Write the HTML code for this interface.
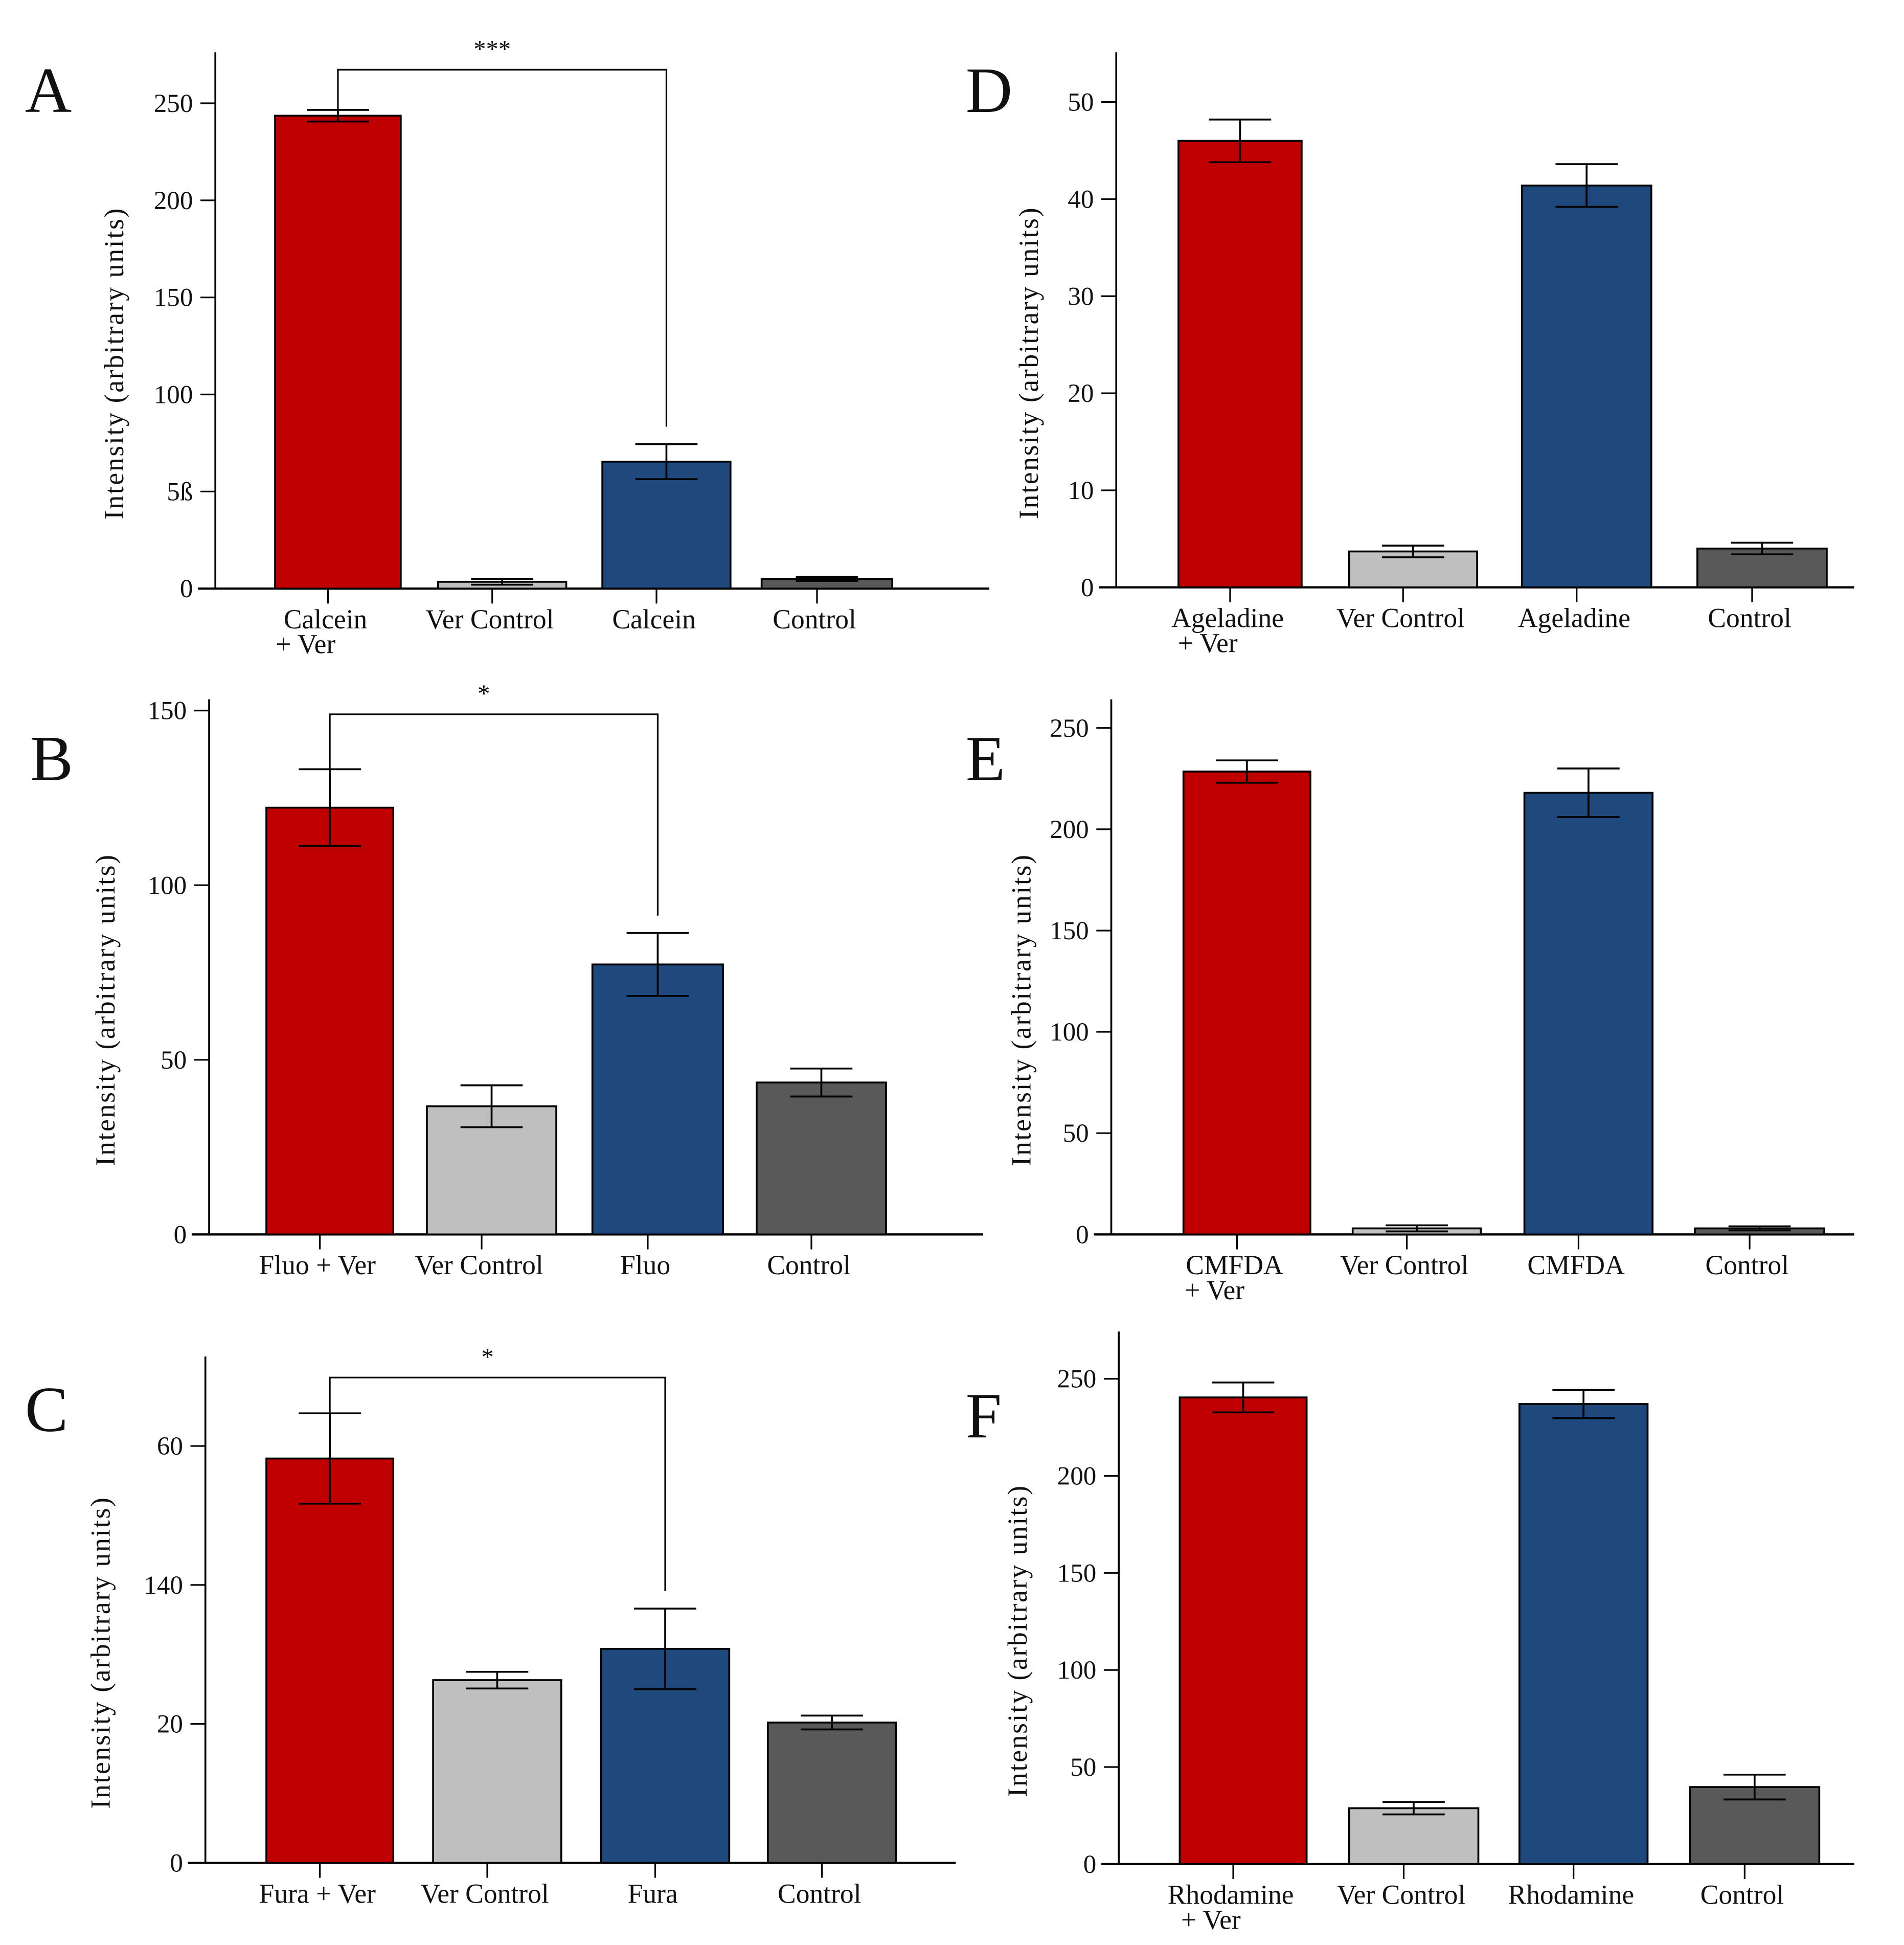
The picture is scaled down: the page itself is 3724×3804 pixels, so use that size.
<!DOCTYPE html>
<html><head><meta charset="utf-8"><style>
html,body{margin:0;padding:0;background:#fff;}
svg{display:block;}
text{font-family:"Liberation Serif",serif;fill:#111;}
</style></head><body>
<svg id="fig" width="3724" height="3804" viewBox="0 0 1530 1563" xmlns="http://www.w3.org/2000/svg"></svg>
<script>
const NS="http://www.w3.org/2000/svg";
const colors=["#c00000","#bfbfbf","#1f497d","#595959"];
// Panel A
const catsA=["Calcein|+ Ver","Ver Control","Calcein","Control"];
const valsA=[243.6,3.5,65.4,5];
const errsA=[3,1.5,9,1];
const ticksA=[0,50,100,150,200,250];
const tickLabelsA=["0","5ß","100","150","200","250"];
// Panel B
const catsB=["Fluo + Ver","Ver Control","Fluo","Control"];
const valsB=[122.2,36.7,77.3,43.5];
const errsB=[11,6,9,4];
const ticksB=[0,50,100,150];
const tickLabelsB=["0","50","100","150"];
// Panel C
const catsC=["Fura + Ver","Ver Control","Fura","Control"];
const valsC=[58.2,26.3,30.8,20.2];
const errsC=[6.5,1.2,5.8,1];
const ticksC=[0,20,40,60];
const tickLabelsC=["0","20","140","60"];
// Panel D
const catsD=["Ageladine|+ Ver","Ver Control","Ageladine","Control"];
const valsD=[46,3.7,41.4,4];
const errsD=[2.2,0.6,2.2,0.6];
const ticksD=[0,10,20,30,40,50];
const tickLabelsD=["0","10","20","30","40","50"];
// Panel E
const catsE=["CMFDA|+ Ver","Ver Control","CMFDA","Control"];
const valsE=[228.5,3,218,3];
const errsE=[5.5,1.5,12,1];
const ticksE=[0,50,100,150,200,250];
const tickLabelsE=["0","50","100","150","200","250"];
// Panel F
const catsF=["Rhodamine|+ Ver","Ver Control","Rhodamine","Control"];
const valsF=[240.4,28.8,237,39.7];
const errsF=[7.7,3.2,7.3,6.4];
const ticksF=[0,50,100,150,200,250];
const tickLabelsF=["0","50","100","150","200","250"];

const svg=document.getElementById('fig');
function el(tag,attrs,parent){const e=document.createElementNS(NS,tag);for(const k in attrs)e.setAttribute(k,attrs[k]);(parent||svg).appendChild(e);return e;}

const panels=[
 {id:"a",L:"A",lx:20,ly:90,ax:173,top:42,y0:473,yTopVal:250,yTopPx:83,xEnd:795,bars:[[221,322],[352,455],[484,587],[612,717]],cats:catsA,vals:valsA,errs:errsA,ticks:ticksA,tl:tickLabelsA,ylx:93,br:{y:56,l:0,r:2,star:"***"}},
 {id:"b",L:"B",lx:24,ly:627,ax:168,top:562,y0:992,yTopVal:150,yTopPx:571,xEnd:790,bars:[[214,316],[343,447],[476,581],[608,712]],cats:catsB,vals:valsB,errs:errsB,ticks:ticksB,tl:tickLabelsB,ylx:86,br:{y:574,l:0,r:2,star:"*"}},
 {id:"c",L:"C",lx:20,ly:1150,ax:165,top:1090,y0:1497,yTopVal:60,yTopPx:1162,xEnd:768,bars:[[214,316],[348,451],[483,586],[617,720]],cats:catsC,vals:valsC,errs:errsC,ticks:ticksC,tl:tickLabelsC,ylx:82,br:{y:1107,l:0,r:2,star:"*"}},
 {id:"d",L:"D",lx:776,ly:90,ax:897,top:42,y0:472,yTopVal:50,yTopPx:82,xEnd:1490,bars:[[947,1046],[1084,1187],[1223,1327],[1364,1468]],cats:catsD,vals:valsD,errs:errsD,ticks:ticksD,tl:tickLabelsD,ylx:828},
 {id:"e",L:"E",lx:776,ly:627,ax:893,top:562,y0:992,yTopVal:250,yTopPx:585,xEnd:1490,bars:[[951,1053],[1087,1190],[1225,1328],[1362,1466]],cats:catsE,vals:valsE,errs:errsE,ticks:ticksE,tl:tickLabelsE,ylx:822},
 {id:"f",L:"F",lx:776,ly:1155,ax:899,top:1070,y0:1498,yTopVal:250,yTopPx:1108,xEnd:1490,bars:[[948,1050],[1084,1188],[1221,1324],[1358,1462]],cats:catsF,vals:valsF,errs:errsF,ticks:ticksF,tl:tickLabelsF,ylx:819}
];

panels.forEach(p=>{
 const g=el('g',{});
 
 
 const yS=v=>p.y0-(p.y0-p.yTopPx)*v/p.yTopVal;
 const t=el('text',{x:p.lx,y:p.ly,'font-size':52},g);t.textContent=p.L;
 
 
 const ya=el('line',{x1:p.ax,y1:p.top,x2:p.ax,y2:p.y0,stroke:'#000','stroke-width':1.5},g);
 
 
 const xa=el('line',{x1:p.ax-14,y1:p.y0,x2:p.xEnd,y2:p.y0,stroke:'#000','stroke-width':1.8},g);
 
 
 p.ticks.forEach((v,i)=>{
  const y=yS(v);
  el('line',{x1:p.ax-12,y1:y,x2:p.ax,y2:y,stroke:'#000','stroke-width':1.3},g);
  const tt=el('text',{x:p.ax-18,y:y+7,'font-size':21,'text-anchor':'end'},g);tt.textContent=p.tl[i];
  
  
 });
 const yl=el('text',{x:0,y:0,'font-size':22,'text-anchor':'middle',textLength:250,lengthAdjust:'spacing',transform:`translate(${p.ylx+6},${(p.top+p.y0)/2+35}) rotate(-90)`},g);
 yl.textContent="Intensity  (arbitrary  units)";
 
 
 p.vals.forEach((v,i)=>{
  const [x1,x2]=p.bars[i];const cx=(x1+x2)/2;
  const r=el('rect',{x:x1,y:yS(v),width:x2-x1,height:p.y0-yS(v),fill:colors[i],stroke:'#000','stroke-width':1.5},g);
  
  
  const e=p.errs[i];
  const eg=el('g',{stroke:'#000','stroke-width':1.5},g);
  
  
  el('line',{x1:cx,y1:yS(v+e),x2:cx,y2:yS(v-e)},eg);
  el('line',{x1:cx-25,y1:yS(v+e),x2:cx+25,y2:yS(v+e)},eg);
  el('line',{x1:cx-25,y1:yS(v-e),x2:cx+25,y2:yS(v-e)},eg);
  el('line',{x1:cx-8,y1:p.y0,x2:cx-8,y2:p.y0+12},g);
  g.lastChild.setAttribute('stroke','#000');g.lastChild.setAttribute('stroke-width','1.3');
  const parts=p.cats[i].split('|');
  parts.forEach((s,j)=>{
   const ct=el('text',{x:j==0?cx-10:cx-50,y:p.y0+32+j*20,'font-size':22,'text-anchor':j==0?'middle':'start'},g);
   ct.textContent=s;
   
   
  });
 });
 if(p.br){
  const b=p.br;
  const xl=(p.bars[b.l][0]+p.bars[b.l][1])/2, xr=(p.bars[b.r][0]+p.bars[b.r][1])/2;
  const yl2=yS(p.vals[b.l]+p.errs[b.l]), yr2=yS(p.vals[b.r]+p.errs[b.r])-14;
  const pb=el('path',{d:`M${xl},${yl2}V${b.y}H${xr}V${yr2}`,fill:'none',stroke:'#000','stroke-width':1.3},g);
  
  
  const st=el('text',{x:(xl+xr)/2-8,y:b.y-10,'font-size':20,'text-anchor':'middle'},g);
  st.textContent=b.star;
  
  
 }
});
</script>
</body></html>
